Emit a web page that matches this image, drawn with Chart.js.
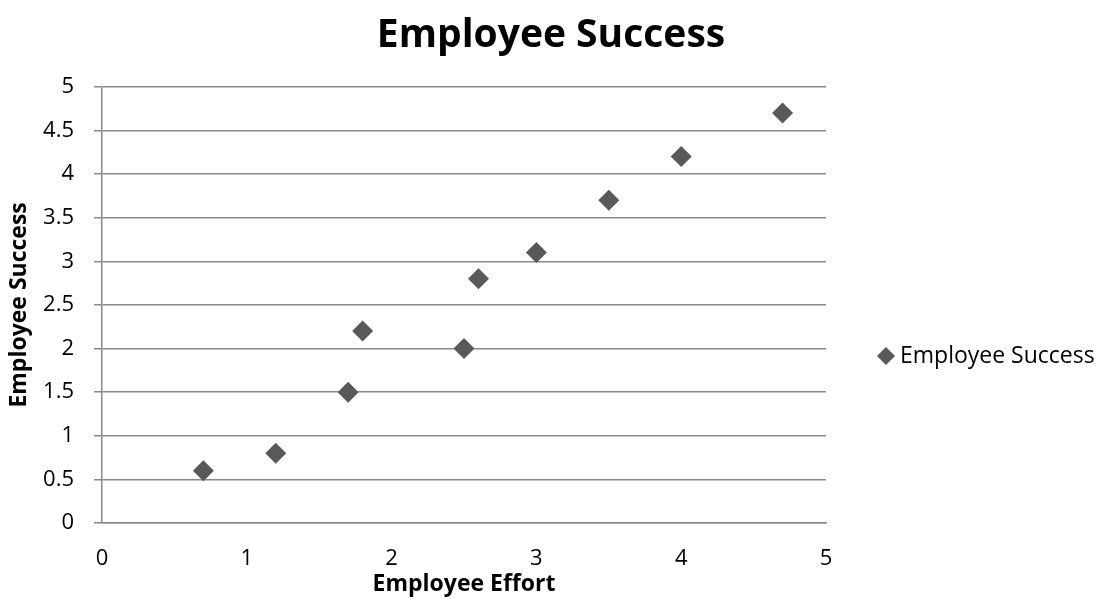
<!DOCTYPE html>
<html>
<head>
<meta charset="utf-8">
<script src="https://cdn.jsdelivr.net/npm/chart.js@4.4.0/dist/chart.umd.min.js"></script>
<style>
  html, body { margin: 0; padding: 0; background: #fff; }
  #wrap { width: 1102px; height: 611px; }
</style>
</head>
<body>
<div id="wrap"><canvas id="chart"></canvas></div>
<script>
// Values
const effort = [0.7, 1.2, 1.7, 1.8, 2.5, 2.6, 3.0, 3.5, 4.0, 4.7];
const success = [0.6, 0.8, 1.5, 2.2, 2.0, 2.8, 3.1, 3.7, 4.2, 4.7];
const seriesName = 'Employee Success';
const chartTitle = 'Employee Success';
const xTitle = 'Employee Effort';
const yTitle = 'Employee Success';

const FONT = '"Open Sans", sans-serif';
const markColor = '#595959';
const gridColor = '#8a8a8a';

let points = effort.map((x, i) => ({ x: x, y: success[i] }));

// Legend drawn in the free space right of the plot area
const sideLegend = {
    id: 'sideLegend',
    afterDraw(chart) {
        let ctx = chart.ctx;
        let area = chart.chartArea;
        let lx = area.right + 60;
        let ly = area.top + (area.bottom - area.top) * 0.617;
        ctx.save();
        ctx.fillStyle = markColor;
        ctx.beginPath();
        ctx.moveTo(lx, ly - 9);
        ctx.lineTo(lx + 9, ly);
        ctx.lineTo(lx, ly + 9);
        ctx.lineTo(lx - 9, ly);
        ctx.closePath();
        ctx.fill();
        ctx.fillStyle = '#000';
        ctx.font = '23px ' + FONT;
        ctx.textBaseline = 'middle';
        ctx.fillText(seriesName, lx + 14, ly + 1);
        ctx.restore();
    }
};

new Chart(document.getElementById('chart'), {
    type: 'scatter',
    data: {
        datasets: [{
            label: seriesName,
            data: points,
            pointStyle: 'rectRot',
            pointRadius: 10.5,
            pointHoverRadius: 10.5,
            pointBackgroundColor: markColor,
            pointBorderWidth: 0,
            borderColor: markColor
        }]
    },
    options: {
        responsive: true,
        maintainAspectRatio: false,
        animation: false,
        layout: { padding: { left: 0, right: 0, top: 0, bottom: 13 } },
        plugins: {
            legend: { display: false },
            tooltip: { enabled: false },
            title: {
                display: true,
                text: chartTitle,
                color: '#000',
                font: { family: FONT, size: 39, weight: 'bold' },
                padding: { top: 12, bottom: 28 }
            }
        },
        scales: {
            x: {
                type: 'linear',
                min: 0,
                max: 5,
                ticks: {
                    stepSize: 1,
                    color: '#000',
                    padding: 23,
                    font: { family: FONT, size: 22 }
                },
                grid: { display: false, drawTicks: false },
                border: { display: true, color: gridColor, width: 1.5 },
                title: {
                    display: true,
                    text: xTitle,
                    color: '#000',
                    font: { family: FONT, size: 23, weight: 'bold' },
                    padding: { top: 3, bottom: 0 }
                },
                afterFit: (scale) => { scale.height = 75; }
            },
            y: {
                type: 'linear',
                min: 0,
                max: 5,
                ticks: {
                    stepSize: 0.5,
                    color: '#000',
                    padding: 20,
                    font: { family: FONT, size: 22 },
                    callback: (v) => String(v)
                },
                grid: { color: gridColor, lineWidth: 1.5, tickLength: 8 },
                border: { display: true, color: gridColor, width: 1.5 },
                title: {
                    display: true,
                    text: yTitle,
                    color: '#000',
                    font: { family: FONT, size: 23, weight: 'bold' },
                    padding: { top: 6, bottom: 0 }
                },
                afterFit: (scale) => { scale.width = 102; }
            },
            // empty axis that keeps the room for the legend on the right
            side: {
                type: 'linear',
                position: 'right',
                min: 0,
                max: 5,
                ticks: { display: false },
                grid: { display: false },
                border: { display: false },
                afterFit: (scale) => { scale.width = 276; }
            }
        }
    },
    plugins: [sideLegend]
});
</script>
</body>
</html>
